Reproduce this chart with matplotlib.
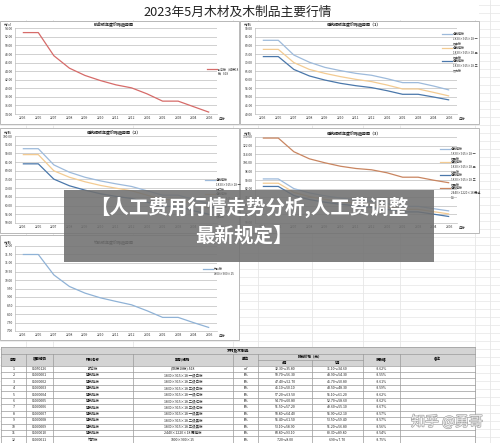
import matplotlib
matplotlib.use("Agg")
import matplotlib.pyplot as plt
from matplotlib.patches import Rectangle
import matplotlib.patheffects as pe

plt.rcParams['font.family'] = ['Noto Sans CJK SC', 'DejaVu Sans']

W, H = 500, 443

# ---------------- data ----------------
months = ['2205', '2206', '2207', '2208', '2209', '2210', '2211', '2212',
          '2301', '2302', '2303', '2304', '2305']

plywood = [53.0, 53.0, 47.6, 44.7, 43.0, 41.8, 40.8, 40.1, 38.7, 37.0, 37.0, 35.7, 34.4]

white1 = [83.0, 83.0, 74.4, 70.2, 67.2, 65.3, 63.7, 62.6, 60.6, 58.3, 58.3, 56.3, 54.0]
white2 = [77.7, 77.7, 70.0, 66.0, 63.7, 61.8, 60.2, 58.9, 56.9, 54.6, 54.6, 52.6, 50.5]
white3 = [73.5, 73.5, 66.0, 62.2, 59.8, 57.9, 56.5, 55.4, 53.6, 51.5, 51.5, 49.9, 48.2]

red1 = [92.7, 92.7, 83.4, 79.2, 76.3, 74.2, 72.5, 71.0, 68.5, 66.0, 66.0, 63.5, 61.0]
red2 = [89.3, 89.3, 80.0, 76.3, 73.7, 71.6, 70.0, 68.5, 66.0, 63.5, 63.5, 61.0, 58.5]
red3 = [84.0, 84.0, 75.2, 71.4, 68.9, 66.8, 65.3, 64.1, 62.0, 59.5, 59.5, 57.0, 55.0]

black1 = [91.0, 91.0, 82.0, 78.0, 75.3, 73.2, 71.6, 70.2, 68.0, 65.5, 65.5, 63.3, 61.2]
black2 = [87.0, 87.0, 78.5, 74.6, 72.0, 70.0, 68.5, 67.2, 65.0, 62.7, 62.7, 60.5, 58.4]
black3 = [84.0, 84.0, 75.5, 71.8, 69.3, 67.4, 66.0, 64.7, 62.6, 60.3, 60.3, 58.2, 56.0]
film = [129.0, 129.0, 116.3, 109.7, 106.0, 102.8, 100.7, 99.5, 96.7, 92.6, 92.6, 89.8, 87.4]

bamboo = [11.5, 11.5, 10.3, 9.62, 9.23, 8.95, 8.74, 8.54, 8.19, 7.8, 7.8, 7.49, 7.2]

table_header = ['序号', '项目编码', '材料名称', '型号/规格', '单位', '4月', '5月', '涨跌幅', '备注']
table_no = ['1', '2', '3', '4', '5', '6', '7', '8', '9', '10', '11', '12']
table_code = ['05050126', '05090001', '05090002', '05090003', '05090004', '05090005',
              '05090006', '05090007', '05090008', '05090009', '05090010', '05090011']
table_name = ['胶合板', '建筑模板', '建筑模板', '建筑模板', '建筑模板', '建筑模板',
              '建筑模板', '建筑模板', '建筑模板', '建筑模板', '建筑模板', '竹胶板']
table_spec = ['(柳桉18板) δ18', '1830×915×18 一级白板', '1830×915×18 二级白板',
              '1830×915×18 三级白板', '1830×915×18 一级红板', '1830×915×18 二级红板',
              '1830×915×18 三级红板', '1830×915×18 一级黑板', '1830×915×18 二级黑板',
              '1830×915×18 三级黑板', '2440×1220×18 覆膜板', '1800×900×15']
table_unit = ['m²', '张', '张', '张', '张', '张', '张', '张', '张', '张', '张', '张']
table_apr = ['32.30～35.80', '50.70～56.30', '47.40～52.70', '45.10～50.10', '57.20～63.50',
             '54.70～60.80', '51.50～57.20', '58.80～64.40', '55.40～61.50', '53.10～58.90',
             '83.80～93.10', '7.20～8.00']
table_may = ['31.10～34.60', '48.90～54.30', '45.70～50.80', '43.50～48.30', '55.10～61.20',
             '52.70～58.60', '49.60～55.10', '55.90～62.10', '53.50～59.40', '51.20～56.80',
             '80.30～89.80', '6.90～7.70']
table_chg = ['-3.62%', '-3.55%', '-3.61%', '-3.59%', '-3.62%', '-3.62%', '-3.67%',
             '-3.57%', '-3.57%', '-3.56%', '-3.54%', '-3.75%']

C_RED = '#D66B69'
C_LB = '#9DBADB'
C_OR = '#F3CB92'
C_DB = '#4A77AA'
C_BR = '#C98560'
C_BAM = '#8FB2D6'

fig = plt.figure(figsize=(W / 100, H / 100), dpi=100)


def px_rect(x0, y0, x1, y1):
    return [x0 / W, 1 - y1 / H, (x1 - x0) / W, (y1 - y0) / H]


bg = fig.add_axes([0, 0, 1, 1])
bg.set_xlim(0, W)
bg.set_ylim(H, 0)
bg.axis('off')

# spreadsheet grid
cols = [26, 53, 133, 233, 258, 312, 363, 400, 475, 490]
for c in cols:
    bg.plot([c, c], [0, H], color='#e2e2e2', lw=0.5, zorder=0)
y = 5.0
while y < H:
    bg.plot([0, W], [y, y], color='#e6e6e6', lw=0.5, zorder=0)
    y += 8.0

# main title (covering cell)
bg.add_patch(Rectangle((0, 0), 479, 20, fc='white', ec='none', zorder=1))
bg.text(238, 12.5, '2023年5月木材及木制品主要行情', fontsize=9.2, ha='center', va='center',
        color='#222222', zorder=5)

FS = 2.4


def chart(box, plot, title, unit, ylim, ystep, series, legend_xy, legend_step):
    bx0, by0, bx1, by1 = box
    bg.add_patch(Rectangle((bx0, by0), bx1 - bx0, by1 - by0, fc='white', ec='#b8b8b8',
                           lw=0.7, zorder=2))
    px0, py0, px1, py1 = plot
    ax = fig.add_axes(px_rect(px0, py0, px1, py1))
    ax.set_facecolor('none')
    for vals, col, lab in series:
        ax.plot(range(len(months)), vals, color=col, lw=0.9, solid_capstyle='butt')
    ax.set_xlim(-0.5, len(months) - 0.5)
    ax.set_ylim(*ylim)
    ticks = []
    v = ylim[0]
    while v <= ylim[1] + 1e-9:
        ticks.append(v)
        v += ystep
    ax.set_yticks(ticks)
    ax.set_yticklabels(['%.2f' % t for t in ticks], fontsize=FS, color='#333333')
    ax.set_xticks(range(len(months)))
    ax.set_xticklabels(months, fontsize=FS, color='#333333')
    ax.tick_params(length=0, pad=1.5)
    ax.grid(axis='y', color='#c4c4c4', lw=0.55)
    ax.set_axisbelow(True)
    for s in ['top', 'right']:
        ax.spines[s].set_visible(False)
    ax.spines['left'].set_color('#bdbdbd')
    ax.spines['bottom'].set_color('#bdbdbd')
    ax.spines['left'].set_linewidth(0.5)
    ax.spines['bottom'].set_linewidth(0.5)
    # titles and labels
    bg.text((px0 + px1) / 2 - 2, py0 - 3.5, title, fontsize=2.9, fontweight='bold',
            ha='center', va='center', color='#222222', zorder=5)
    bg.text(px0 - 11, py0 - 3.5, unit, fontsize=FS, ha='left', va='center',
            color='#333333', zorder=5)
    bg.text(px1 + 2, py1 + 5.2, '月份', fontsize=FS, ha='left', va='center',
            color='#333333', zorder=5)
    # legend
    lx, ly = legend_xy
    for i, (vals, col, lab) in enumerate(series):
        yy = ly + i * legend_step
        bg.plot([lx, lx + 10], [yy, yy], color=col, lw=0.9, zorder=5)
        bg.text(lx + 11, yy - 1.6, lab, fontsize=2.2, ha='left', va='top',
                linespacing=1.25, color='#333333', zorder=5)
    return ax


chart((0, 21, 239, 124), (15, 28.3, 217, 114), '胶合板年度价格趋势图', '元/㎡',
      (34, 54), 2,
      [(plywood, C_RED, '胶合板（柳桉18\n板）δ18')],
      (207, 69), 0)

chart((240, 21, 479, 124), (255, 28.3, 457, 114), '建筑模板年度价格趋势图（1）', '元/张',
      (40, 90), 5,
      [(white1, C_LB, '建筑模板\n1830×915×18 一\n级白板'),
       (white2, C_OR, '建筑模板\n1830×915×18 二\n级白板'),
       (white3, C_DB, '建筑模板\n1830×915×18 三\n级白板')],
      (442, 34), 13.5)

chart((0, 128, 239, 233), (15, 136, 217, 223), '建筑模板年度价格趋势图（2）', '元/张',
      (50, 100), 5,
      [(red1, C_LB, '建筑模板\n1830×915×18 一\n级红板'),
       (red2, C_OR, '建筑模板\n1830×915×18 二\n级红板'),
       (red3, C_DB, '建筑模板\n1830×915×18 三\n级红板')],
      (205, 180), 13.5)

chart((240, 128, 479, 233), (255, 137, 457, 223), '建筑模板年度价格趋势图（3）', '元/张',
      (50, 130), 8,
      [(black1, C_LB, '建筑模板\n1830×915×18 一\n级黑板'),
       (black2, C_OR, '建筑模板\n1830×915×18 二\n级黑板'),
       (black3, C_DB, '建筑模板\n1830×915×18 三\n级黑板'),
       (film, C_BR, '建筑模板\n2440×1220×18 覆膜\n板')],
      (440, 149), 13.0)

chart((0, 235, 239, 340), (15, 246, 217, 331), '竹胶板年度价格趋势图', '元/张',
      (7, 12), 0.5,
      [(bamboo, C_BAM, '竹胶板\n1800×900×15')],
      (203, 269), 0)

# ---------------- table ----------------
tx = [1, 26, 53, 133, 233, 258, 312, 363, 400, 475]
ty0, ty1, ty2 = 347, 353.5, 365.5
row_h = 6.45
LC = '#9a9a9a'
bg.add_patch(Rectangle((tx[0], ty0), tx[-1] - tx[0], ty2 - ty0, fc='#d4d4d4', ec='none', zorder=2))
bg.add_patch(Rectangle((tx[0], ty2), tx[-1] - tx[0], H - ty2, fc='white', ec='none', zorder=2))
bg.text((tx[0] + tx[-1]) / 2, (ty0 + ty1) / 2, '木材及木制品', fontsize=2.7, fontweight='bold',
        ha='center', va='center', zorder=6)
# horizontal lines
for yy in [ty0, ty1, ty2]:
    bg.plot([tx[0], tx[-1]], [yy, yy], color=LC, lw=0.5, zorder=5)
bg.plot([tx[5], tx[7]], [359.8, 359.8], color=LC, lw=0.5, zorder=5)
for i in range(1, len(table_no) + 1):
    yy = ty2 + i * row_h
    bg.plot([tx[0], tx[-1]], [yy, yy], color=LC, lw=0.5, zorder=5)
# vertical lines
for i, xx in enumerate(tx):
    top = ty0 if i in (0, len(tx) - 1) else ty1
    if i == 6:
        bg.plot([xx, xx], [359.8, H], color=LC, lw=0.5, zorder=5)
    else:
        bg.plot([xx, xx], [top, H], color=LC, lw=0.5, zorder=5)
# header text
hmid = (ty1 + ty2) / 2
for j, lab in enumerate(table_header):
    if j in (5, 6):
        continue
    xc = (tx[j] + tx[j + 1]) / 2 if j < 5 else (tx[j] + tx[j + 1]) / 2
    if j >= 7:
        xc = (tx[j] + tx[j + 1]) / 2
    bg.text(xc, hmid, lab, fontsize=2.5, fontweight='bold', ha='center', va='center', zorder=6)
bg.text((tx[5] + tx[7]) / 2, (ty1 + 359.8) / 2, '除税价格（元）', fontsize=2.5, fontweight='bold',
        ha='center', va='center', zorder=6)
bg.text((tx[5] + tx[6]) / 2, (359.8 + ty2) / 2, table_header[5], fontsize=2.5, fontweight='bold',
        ha='center', va='center', zorder=6)
bg.text((tx[6] + tx[7]) / 2, (359.8 + ty2) / 2, table_header[6], fontsize=2.5, fontweight='bold',
        ha='center', va='center', zorder=6)
cols_data = [table_no, table_code, table_name, table_spec, table_unit, table_apr, table_may, table_chg]
for i in range(len(table_no)):
    yc = ty2 + (i + 0.5) * row_h
    for j, colvals in enumerate(cols_data):
        xc = (tx[j] + tx[j + 1]) / 2
        bg.text(xc, yc, colvals[i], fontsize=2.5, ha='center', va='center', color='#222222',
                zorder=6)

# ---------------- overlay: banner & watermark ----------------
ov = fig.add_axes([0, 0, 1, 1], zorder=10)
ov.set_xlim(0, W)
ov.set_ylim(H, 0)
ov.axis('off')
ov.patch.set_alpha(0)
ov.add_patch(Rectangle((64, 190), 370, 72, fc='#707070', ec='none', alpha=0.88))
ov.text(249, 207.5, '【人工费用行情走势分析,人工费调整', fontsize=14, fontweight='bold',
        color='white', ha='center', va='center')
ov.text(244, 236, '最新规定】', fontsize=14, fontweight='bold',
        color='white', ha='center', va='center')
ov.text(447, 422, '知乎 @勇哥', fontsize=10, color='#f2f2f2', ha='center', va='center',
        path_effects=[pe.withStroke(linewidth=1.0, foreground='#a8a8a8')])

fig.savefig('out.png', dpi=100)
